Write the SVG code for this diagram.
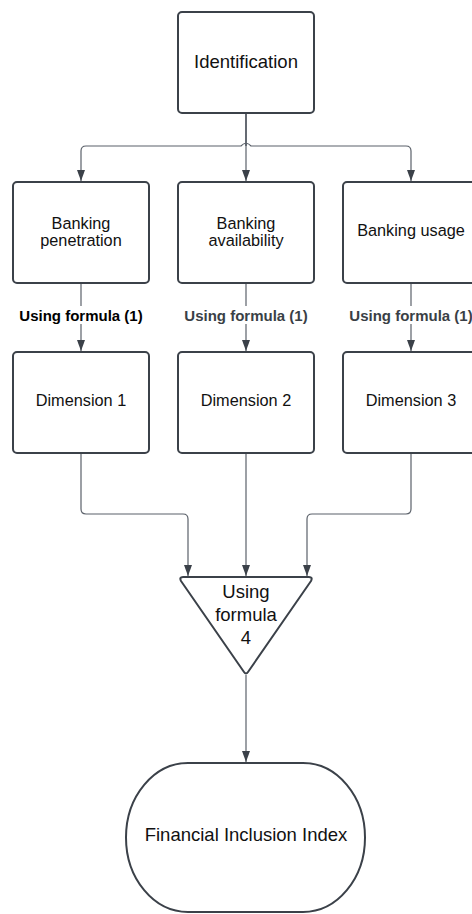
<svg xmlns="http://www.w3.org/2000/svg" width="472" height="914" viewBox="0 0 472 914">
<defs>
<style>
.box{fill:#fff;stroke:#3b4149;stroke-width:2}
.t{font-family:"Liberation Sans",Arial,sans-serif;fill:#111;text-anchor:middle}
.s16{font-size:16.3px}
.s18{font-size:18.5px}
.lbl{font-family:"Liberation Sans",Arial,sans-serif;font-size:15px;font-weight:bold;text-anchor:middle}
.lbg{fill:#fff}
.c{fill:none;stroke:#5b616a;stroke-width:1.2}
</style>
<marker id="ah" viewBox="0 0 11 8" refX="11" refY="4" markerWidth="11" markerHeight="8" markerUnits="userSpaceOnUse" orient="auto">
<path d="M0,0 L11,4 L0,8 z" fill="#3b4149"/>
</marker>
</defs>
<rect width="472" height="914" fill="#fff"/>
<g id="connectors">
<path class="c" d="M246,113 V146 Q246,141 241,146 H86 Q81,146 81,151 V181" marker-end="url(#ah)"/>
<path class="c" d="M246,113 V181" marker-end="url(#ah)"/>
<path class="c" d="M246,113 V146 Q246,141 251,146 H406 Q411,146 411,151 V181" marker-end="url(#ah)"/>
<path class="c" d="M81,283 V351" marker-end="url(#ah)"/>
<path class="c" d="M246,283 V351" marker-end="url(#ah)"/>
<path class="c" d="M411,283 V351" marker-end="url(#ah)"/>
<path class="c" d="M81,453 V509 Q81,514 86,514 H183 Q188,514 188,519 V576" marker-end="url(#ah)"/>
<path class="c" d="M246,453 V576" marker-end="url(#ah)"/>
<path class="c" d="M411,453 V509 Q411,514 406,514 H312 Q307,514 307,519 V576" marker-end="url(#ah)"/>
<path class="c" d="M246,675 V762" marker-end="url(#ah)"/>
</g>
<g id="labels">
<rect class="lbg" x="18" y="306" width="126" height="18"/>
<text class="lbl" x="81" y="321" fill="#000">Using formula (1)</text>
<rect class="lbg" x="183" y="306" width="126" height="18"/>
<text class="lbl" x="246" y="321" fill="#3a3f46">Using formula (1)</text>
<rect class="lbg" x="348" y="306" width="124" height="18"/>
<text class="lbl" x="411" y="321" fill="#3a3f46">Using formula (1)</text>
</g>
<g id="identification">
<rect class="box" x="178" y="12" width="136" height="101" rx="4"/>
<text class="t s18" x="246" y="68">Identification</text>
</g>
<g id="banking-penetration">
<rect class="box" x="13" y="182" width="136" height="101" rx="4"/>
<text class="t s16" x="81" y="229">Banking</text>
<text class="t s16" x="81" y="246">penetration</text>
</g>
<g id="banking-availability">
<rect class="box" x="178" y="182" width="136" height="101" rx="4"/>
<text class="t s16" x="246" y="229">Banking</text>
<text class="t s16" x="246" y="246">availability</text>
</g>
<g id="banking-usage">
<rect class="box" x="343" y="182" width="136" height="101" rx="4"/>
<text class="t s16" x="411" y="236">Banking usage</text>
</g>
<g id="dimension-1">
<rect class="box" x="13" y="352" width="136" height="101" rx="4"/>
<text class="t s16" x="81" y="406">Dimension 1</text>
</g>
<g id="dimension-2">
<rect class="box" x="178" y="352" width="136" height="101" rx="4"/>
<text class="t s16" x="246" y="406">Dimension 2</text>
</g>
<g id="dimension-3">
<rect class="box" x="343" y="352" width="136" height="101" rx="4"/>
<text class="t s16" x="411" y="406">Dimension 3</text>
</g>
<g id="formula-4">
<path class="box" stroke-linejoin="round" d="M183,577 H309 Q313,577 311,581 L248,672 Q246,675 244,672 L181,581 Q179,577 183,577 Z"/>
<text class="t s18" x="246" y="598">Using</text>
<text class="t s18" x="246" y="621">formula</text>
<text class="t s18" x="246" y="644">4</text>
</g>
<g id="financial-inclusion-index">
<rect class="box" x="126" y="763" width="239" height="149" rx="62" ry="74.5"/>
<text class="t s18" x="246" y="841">Financial Inclusion Index</text>
</g>
</svg>
